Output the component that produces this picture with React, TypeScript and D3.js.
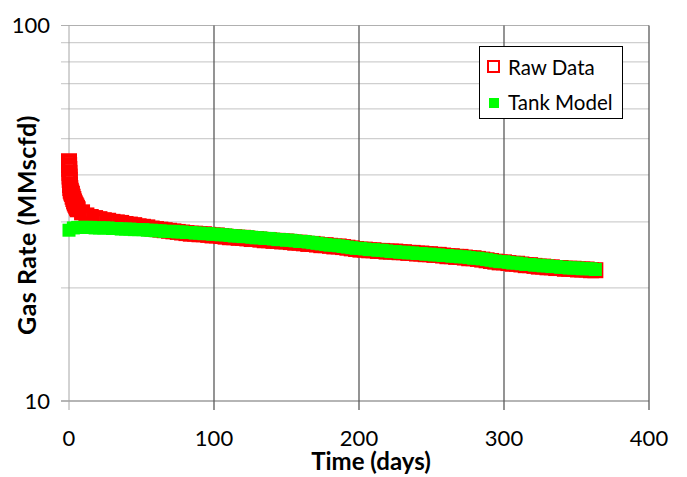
import { useEffect, useRef } from 'react';
import * as d3 from 'd3';

// Tank model (filled green squares), sampled every 3 days
const tankDays = d3.range(0, 366, 3);
const tankRates = [
  28.5, 28.9, 29.0, 29.0, 29.0, 29.0, 28.9, 28.9, 28.9, 28.9, 28.8,
  28.8, 28.7, 28.7, 28.7, 28.6, 28.6, 28.6, 28.5, 28.5, 28.4,
  28.4, 28.3, 28.3, 28.3, 28.2, 28.2, 28.1, 28.1, 28.0, 28.0,
  27.9, 27.9, 27.8, 27.8, 27.7, 27.7, 27.6, 27.5, 27.5, 27.4,
  27.4, 27.3, 27.2, 27.2, 27.1, 27.1, 27.0, 26.9, 26.9, 26.8,
  26.8, 26.7, 26.6, 26.6, 26.5, 26.4, 26.3, 26.2, 26.1, 26.0,
  26.0, 25.9, 25.8, 25.7, 25.6, 25.5, 25.5, 25.4, 25.3, 25.3,
  25.2, 25.2, 25.1, 25.0, 25.0, 24.9, 24.9, 24.8, 24.8, 24.7,
  24.7, 24.6, 24.6, 24.5, 24.5, 24.4, 24.4, 24.3, 24.3, 24.2,
  24.2, 24.1, 24.0, 24.0, 23.9, 23.8, 23.7, 23.6, 23.5, 23.5,
  23.4, 23.3, 23.3, 23.2, 23.1, 23.1, 23.0, 23.0, 22.9, 22.9,
  22.8, 22.8, 22.7, 22.7, 22.6, 22.6, 22.6, 22.5, 22.5, 22.5, 22.4,
];

// Raw data (hollow red squares): dense early flowback, then every 3 days
const rawEarlyDays = [
  0, 0.1, 0.2, 0.3, 0.4, 0.5, 0.7, 0.9, 1.2, 1.6, 2.0, 2.5,
  3.0, 3.5, 4.0, 4.5, 5.0, 5.5,
];
const rawEarlyRates = [
  43.5, 42.5, 41.5, 40.5, 39.6, 38.8, 37.6, 36.9, 36.3, 35.9, 35.6, 35.0,
  34.5, 34.0, 33.6, 33.3, 33.0, 32.7,
];
const rawDays = d3.range(6, 366, 3);
const rawRates = [
  32.4, 31.8, 31.2, 30.9, 30.7, 30.5, 30.3, 30.2, 30.0,
  29.9, 29.8, 29.6, 29.5, 29.4, 29.2, 29.1, 29.0, 28.8, 28.7,
  28.6, 28.5, 28.4, 28.3, 28.2, 28.1, 28.0, 27.9, 27.9, 27.8,
  27.8, 27.7, 27.6, 27.6, 27.5, 27.4, 27.3, 27.3, 27.2, 27.2,
  27.1, 27.0, 27.0, 26.9, 26.8, 26.8, 26.7, 26.7, 26.6, 26.6,
  26.5, 26.4, 26.4, 26.3, 26.2, 26.2, 26.1, 26.0, 26.0, 25.9,
  25.8, 25.8, 25.7, 25.6, 25.5, 25.4, 25.3, 25.3, 25.2, 25.2,
  25.1, 25.1, 25.0, 25.0, 25.0, 24.9, 24.9, 24.8, 24.8, 24.7,
  24.7, 24.6, 24.6, 24.5, 24.5, 24.4, 24.3, 24.3, 24.2, 24.2,
  24.1, 24.0, 24.0, 23.9, 23.8, 23.7, 23.6, 23.5, 23.4, 23.4,
  23.3, 23.2, 23.2, 23.1, 23.0, 23.0, 22.9, 22.8, 22.8, 22.7,
  22.7, 22.6, 22.6, 22.5, 22.5, 22.5, 22.4, 22.4, 22.4, 22.3, 22.3,
];

const xTicks = [0, 100, 200, 300, 400];
const yGrid = [20, 30, 40, 50, 60, 70, 80, 90, 100];
const yLabels = [10, 100];
const legendItems = ['Raw Data', 'Tank Model'];

const W = 687;
const H = 477;
const FONT = 'Lato, "Open Sans", sans-serif';

export default function App() {
  const svgRef = useRef<SVGSVGElement>(null);

  useEffect(() => {
    if (!svgRef.current) return;
    const svg = d3.select(svgRef.current);
    svg.selectAll('*').remove();

    const x = d3.scaleLinear().domain([0, 400]).range([69, 649]);
    const y = d3.scaleLog().domain([10, 100]).range([401, 25.5]);

    svg.append('rect').attr('width', W).attr('height', H).attr('fill', '#fff');

    // --- horizontal grid + left ticks ---
    yGrid.forEach((v) => {
      svg.append('line')
        .attr('x1', x(0) - 8).attr('x2', x(400))
        .attr('y1', y(v)).attr('y2', y(v))
        .attr('stroke', v === 100 ? '#b0b0b0' : '#cfcfcf')
        .attr('stroke-width', 1.2);
    });

    // --- x axis line + ticks ---
    svg.append('line')
      .attr('x1', x(0) - 8).attr('x2', x(400))
      .attr('y1', y(10)).attr('y2', y(10))
      .attr('stroke', '#b5b5b5').attr('stroke-width', 2);

    xTicks.forEach((t) => {
      svg.append('line')
        .attr('x1', x(t)).attr('x2', x(t))
        .attr('y1', y(100)).attr('y2', y(10) + 9)
        .attr('stroke', t === 0 ? '#a6a6a6' : '#5a5a5a')
        .attr('stroke-width', t === 0 ? 1 : 1.3);
      svg.append('text')
        .attr('x', x(t)).attr('y', 446)
        .attr('text-anchor', 'middle')
        .attr('font-family', FONT).attr('font-size', 22)
        .attr('fill', '#000')
        .text(t);
    });

    yLabels.forEach((v) => {
      svg.append('text')
        .attr('x', 50).attr('y', y(v))
        .attr('dy', '0.36em')
        .attr('text-anchor', 'end')
        .attr('font-family', FONT).attr('font-size', 22)
        .attr('fill', '#000')
        .text(v);
    });

    // --- data ---
    const raw = [
      ...rawEarlyDays.map((d, i) => [d, rawEarlyRates[i]]),
      ...rawDays.map((d, i) => [d, rawRates[i]]),
    ];
    const tank = tankDays.map((d, i) => [d, tankRates[i]]);

    const rs = 12;
    svg.append('g').selectAll('rect')
      .data(raw)
      .enter()
      .append('rect')
      .attr('x', (d) => x(d[0]) - rs / 2)
      .attr('y', (d) => y(d[1]) - rs / 2)
      .attr('width', rs).attr('height', rs)
      .attr('fill', 'none')
      .attr('stroke', '#ff0000')
      .attr('stroke-width', 4);

    const gs = 13;
    svg.append('g').selectAll('rect')
      .data(tank)
      .enter()
      .append('rect')
      .attr('x', (d) => x(d[0]) - gs / 2)
      .attr('y', (d) => y(d[1]) - gs / 2)
      .attr('width', gs).attr('height', gs)
      .attr('fill', '#00ff00');

    // --- axis titles ---
    svg.append('text')
      .attr('x', 371).attr('y', 470)
      .attr('text-anchor', 'middle')
      .attr('font-family', FONT).attr('font-size', 24).attr('font-weight', 700)
      .text('Time (days)');

    svg.append('text')
      .attr('transform', 'translate(36,225) rotate(-90)')
      .attr('text-anchor', 'middle')
      .attr('font-family', FONT).attr('font-size', 25).attr('font-weight', 700)
      .attr('letter-spacing', 0.5)
      .text('Gas Rate (MMscfd)');

    // --- legend ---
    const lg = svg.append('g');
    lg.append('rect')
      .attr('x', 479.5).attr('y', 46.5)
      .attr('width', 143).attr('height', 72)
      .attr('fill', '#fff').attr('stroke', '#000').attr('stroke-width', 1);
    lg.append('rect')
      .attr('x', 488).attr('y', 61)
      .attr('width', 11).attr('height', 11)
      .attr('fill', 'none').attr('stroke', '#ff0000').attr('stroke-width', 2);
    lg.append('rect')
      .attr('x', 489).attr('y', 98)
      .attr('width', 10).attr('height', 10)
      .attr('fill', '#00ff00');
    legendItems.forEach((name, i) => {
      lg.append('text')
        .attr('x', 508).attr('y', 75 + i * 35)
        .attr('font-family', FONT).attr('font-size', 20.5)
        .attr('fill', '#000')
        .text(name);
    });
  }, []);

  return (
    <div style={{ position: 'absolute', left: 0, top: 0 }}>
      <svg ref={svgRef} width={W} height={H} style={{ display: 'block' }} />
    </div>
  );
}
